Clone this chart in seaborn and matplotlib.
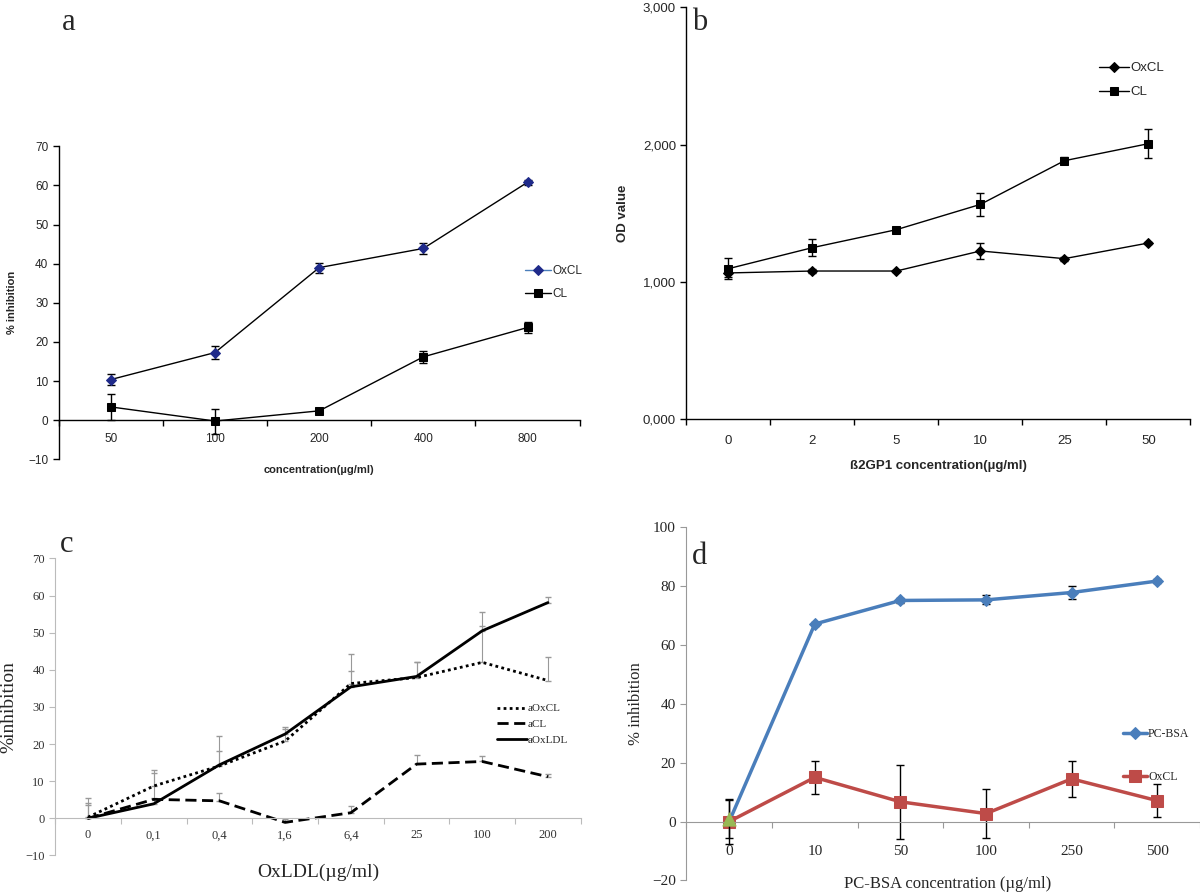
import seaborn as sns
import numpy as np
import matplotlib.pyplot as plt
from matplotlib.ticker import FixedLocator, NullFormatter, FixedFormatter

sns.set_style("ticks")
plt.rcParams['font.family'] = ['Liberation Sans', 'DejaVu Sans']

# ---- panel a data ----
a_cats = ['50', '100', '200', '400', '800']
a_oxcl = [10.4, 17.3, 39.0, 43.9, 60.8]
a_oxcl_err = [1.3, 1.7, 1.3, 1.3, 0.7]
a_cl = [3.4, -0.2, 2.4, 16.2, 23.7]
a_cl_err = [3.3, 3.2, 0.5, 1.5, 1.5]

# ---- panel b data ----
b_cats = ['0', '2', '5', '10', '25', '50']
b_oxcl = [1065, 1079, 1079, 1225, 1169, 1283]
b_oxcl_err = [30, 15, 10, 58, 15, 10]
b_cl = [1096, 1249, 1380, 1564, 1882, 2006]
b_cl_err = [75, 63, 18, 83, 25, 105]

# ---- panel c data ----
c_cats = ['0', '0,1', '0,4', '1,6', '6,4', '25', '100', '200']
c_aoxcl = [0.3, 8.7, 14.1, 20.8, 36.3, 37.9, 42.0, 37.1]
c_aoxcl_err = [3.2, 4.2, 4.0, 3.2, 3.5, 4.2, 9.9, 6.3]
c_acl = [0.0, 5.1, 4.7, -1.1, 1.5, 14.6, 15.3, 11.2]
c_acl_err = [4.0, 0.5, 2.1, 1.0, 1.9, 2.4, 1.6, 0.7]
c_aoxldl = [0.0, 3.9, 14.4, 22.7, 35.4, 38.2, 50.5, 58.1]
c_aoxldl_err = [5.6, 8.2, 7.7, 2.0, 8.9, 3.9, 5.1, 1.6]

# ---- panel d data ----
d_cats = ['0', '10', '50', '100', '250', '500']
d_pcbsa = [0.0, 67.1, 75.1, 75.3, 77.8, 81.7]
d_pcbsa_err = [0.0, 0.6, 0.8, 1.5, 2.3, 0.6]
d_oxcl = [0.0, 15.0, 6.7, 2.7, 14.5, 7.1]
d_oxcl_err = [7.5, 5.6, 12.5, 8.3, 6.2, 5.5]
d_ctrl = [0.8]
d_ctrl_err = [6.5]

BLUE = '#4a7ebb'
RED = '#be4b48'
GREEN = '#98b954'
SERIF = ['Liberation Serif', 'DejaVu Serif']

fig = plt.figure(figsize=(12, 8.92), dpi=100)


def excel_axis(ax, ncat, labels, color, lw, pad):
    # category axis with ticks between the categories, spine at y = 0
    ax.set_xlim(-0.5, ncat - 0.5)
    ax.spines['top'].set_visible(False)
    ax.spines['right'].set_visible(False)
    ax.spines['bottom'].set_position(('data', 0))
    for s in ('left', 'bottom'):
        ax.spines[s].set_color(color)
        ax.spines[s].set_linewidth(lw)
    ax.xaxis.set_major_locator(FixedLocator(np.arange(ncat + 1) - 0.5))
    ax.xaxis.set_major_formatter(NullFormatter())
    ax.xaxis.set_minor_locator(FixedLocator(np.arange(ncat)))
    ax.xaxis.set_minor_formatter(FixedFormatter(labels))
    ax.tick_params(axis='x', which='major', direction='out', length=4, color=color, width=lw)
    ax.tick_params(axis='x', which='minor', length=0, pad=pad)
    ax.tick_params(axis='y', direction='out', length=4, color=color, width=lw)


# ================= panel a =================
axa = fig.add_axes([0.049, 0.485, 0.434, 0.351])
xa = np.arange(len(a_cats))
axa.errorbar(xa, a_oxcl, yerr=a_oxcl_err, fmt='none', ecolor='black', capsize=3, lw=1)
axa.errorbar(xa, a_cl, yerr=a_cl_err, fmt='none', ecolor='black', capsize=3, lw=1)
sns.lineplot(x=xa, y=a_oxcl, ax=axa, color='black', lw=1, marker='D', markersize=5,
             markerfacecolor='#1f2a8a', markeredgecolor='#1f2a8a', label='OxCL')
sns.lineplot(x=xa, y=a_cl, ax=axa, color='black', lw=1, marker='s', markersize=6,
             markerfacecolor='black', markeredgecolor='black', label='CL')
axa.set_ylim(-10, 70)
axa.set_yticks(range(-10, 71, 10))
excel_axis(axa, len(a_cats), a_cats, 'black', 1, 9)
axa.tick_params(axis='both', which='both', labelsize=8.5)
axa.set_ylabel('% inhibition', fontsize=8, fontweight='bold', labelpad=8)
axa.set_xlabel('')
leg = axa.legend(loc='center left', bbox_to_anchor=(0.875, 0.565), frameon=False,
                 fontsize=8.5, handlelength=2.2, handletextpad=0.1, labelspacing=0.9)
for h in leg.legend_handles:
    h.set_color('black')
leg.legend_handles[0].set_color(BLUE)
fig.text(0.5 * (0.049 + 0.483), 1 - 470 / 892, 'concentration(µg/ml)', ha='center', va='center',
         fontsize=8, fontweight='bold')
fig.text(62 / 1200, 1 - 22 / 892, 'a', fontsize=22, family=SERIF, va='center')

# ================= panel b =================
axb = fig.add_axes([0.572, 0.530, 0.420, 0.462])
xb = np.arange(len(b_cats))
axb.errorbar(xb, b_oxcl, yerr=b_oxcl_err, fmt='none', ecolor='black', capsize=3, lw=1)
axb.errorbar(xb, b_cl, yerr=b_cl_err, fmt='none', ecolor='black', capsize=3, lw=1)
sns.lineplot(x=xb, y=b_oxcl, ax=axb, color='black', lw=1, marker='D', markersize=5,
             markeredgecolor='black', label='OxCL')
sns.lineplot(x=xb, y=b_cl, ax=axb, color='black', lw=1, marker='s', markersize=6,
             markeredgecolor='black', label='CL')
axb.set_ylim(0, 3000)
axb.set_yticks([0, 1000, 2000, 3000])
axb.set_yticklabels(['0,000', '1,000', '2,000', '3,000'])
excel_axis(axb, len(b_cats), b_cats, 'black', 1, 11)
axb.tick_params(axis='both', which='both', labelsize=9.5)
axb.set_ylabel('OD value', fontsize=9.5, fontweight='bold', labelpad=10)
axb.set_xlabel('ß2GP1 concentration(µg/ml)', fontsize=9.5, fontweight='bold', labelpad=10)
axb.legend(loc='center left', bbox_to_anchor=(0.795, 0.823), frameon=False,
           fontsize=9.5, handlelength=2.3, handletextpad=0.1, labelspacing=0.9)
fig.text(692 / 1200, 1 - 22 / 892, 'b', fontsize=22, family=SERIF, va='center')

# ================= panel c =================
axc = fig.add_axes([0.046, 0.041, 0.438, 0.333])
xc = np.arange(len(c_cats))
for vals, errs in [(c_aoxcl, c_aoxcl_err), (c_acl, c_acl_err), (c_aoxldl, c_aoxldl_err)]:
    axc.errorbar(xc, vals, yerr=[np.zeros(len(errs)), errs], fmt='none', ecolor='#999999',
                 capsize=2.5, lw=0.8)
sns.lineplot(x=xc, y=c_aoxcl, ax=axc, color='black', lw=2, linestyle=(0, (1, 1.2)), label='aOxCL')
sns.lineplot(x=xc, y=c_acl, ax=axc, color='black', lw=2, linestyle=(0, (4, 2)), label='aCL')
sns.lineplot(x=xc, y=c_aoxldl, ax=axc, color='black', lw=2, label='aOxLDL')
axc.set_ylim(-10, 70)
axc.set_yticks(range(-10, 71, 10))
excel_axis(axc, len(c_cats), c_cats, '#bbbbbb', 0.8, 8)
axc.tick_params(axis='both', which='both', labelsize=9, labelcolor='#333333')
for t in axc.get_xticklabels(minor=True) + axc.get_yticklabels():
    t.set_family(SERIF)
axc.set_ylabel('%inhibition', fontsize=14, family=SERIF, labelpad=6)
axc.set_xlabel('')
fig.text(0.265, 1 - 872 / 892, 'OxLDL(µg/ml)', ha='center', va='center', fontsize=14, family=SERIF)
axc.legend(loc='center left', bbox_to_anchor=(0.821, 0.441), frameon=False,
           prop={'family': SERIF, 'size': 8}, handlelength=2.7, handletextpad=0.1,
           labelspacing=0.55)
fig.text(60 / 1200, 1 - 545 / 892, 'c', fontsize=22, family=SERIF, va='center')

# ================= panel d =================
axd = fig.add_axes([0.572, 0.013, 0.428, 0.396])
xd = np.arange(len(d_cats))
axd.errorbar(xd, d_pcbsa, yerr=d_pcbsa_err, fmt='none', ecolor='black', capsize=3, lw=1)
axd.errorbar(xd, d_oxcl, yerr=d_oxcl_err, fmt='none', ecolor='black', capsize=3, lw=1)
sns.lineplot(x=xd, y=d_pcbsa, ax=axd, color=BLUE, lw=2.5, marker='D', markersize=6,
             markeredgecolor=BLUE, label='PC-BSA')
sns.lineplot(x=xd, y=d_oxcl, ax=axd, color=RED, lw=2.5, marker='s', markersize=8,
             markeredgecolor=RED, label='OxCL')
axd.errorbar(xd[:1], d_ctrl, yerr=d_ctrl_err, fmt='none', ecolor='black', capsize=3, lw=1)
sns.scatterplot(x=xd[:1], y=d_ctrl, ax=axd, color=GREEN, marker='^', s=90, edgecolor=GREEN,
                zorder=5, legend=False)
axd.set_ylim(-20, 100)
axd.set_yticks(range(-20, 101, 20))
excel_axis(axd, len(d_cats), d_cats, '#999999', 0.8, 17)
axd.tick_params(axis='both', which='both', labelsize=11)
for t in axd.get_xticklabels(minor=True) + axd.get_yticklabels():
    t.set_family(SERIF)
axd.set_ylabel('% inhibition', fontsize=12, family=SERIF, labelpad=6)
axd.set_xlabel('')
fig.text(0.79, 1 - 884 / 892, 'PC-BSA concentration (µg/ml)', ha='center', va='center',
         fontsize=12, family=SERIF)
axd.legend(loc='center left', bbox_to_anchor=(0.83, 0.353), frameon=False,
           prop={'family': SERIF, 'size': 8.5}, handlelength=2.0, handletextpad=0.1,
           labelspacing=2.6)
fig.text(692 / 1200, 1 - 557 / 892, 'd', fontsize=22, family=SERIF, va='center')

fig.savefig('out.png', dpi=100)
